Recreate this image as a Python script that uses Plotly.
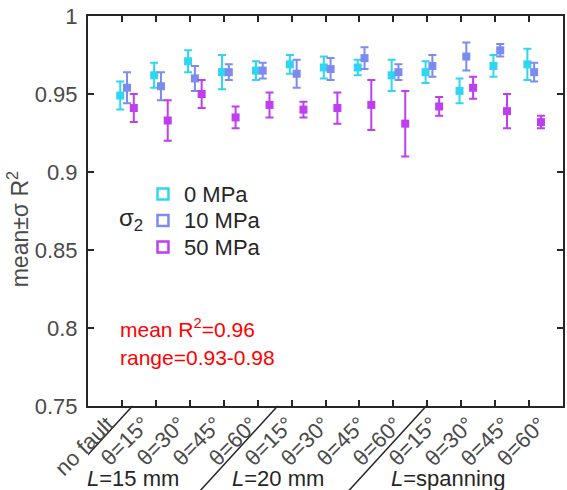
import plotly.graph_objects as go

categories = ["no fault", "θ=15°", "θ=30°", "θ=45°", "θ=60°",
              "θ=15°", "θ=30°", "θ=45°", "θ=60°",
              "θ=15°", "θ=30°", "θ=45°", "θ=60°"]
series_names = ["0 MPa", "10 MPa", "50 MPa"]
mean_0 = [0.949, 0.962, 0.971, 0.964, 0.965, 0.969, 0.967, 0.967, 0.962, 0.964, 0.952, 0.968, 0.969]
sd_0 = [0.009, 0.008, 0.007, 0.011, 0.006, 0.006, 0.007, 0.005, 0.010, 0.007, 0.008, 0.007, 0.010]
mean_10 = [0.954, 0.955, 0.960, 0.964, 0.965, 0.963, 0.966, 0.973, 0.964, 0.968, 0.974, 0.978, 0.964]
sd_10 = [0.010, 0.009, 0.008, 0.005, 0.005, 0.009, 0.007, 0.007, 0.005, 0.007, 0.009, 0.004, 0.006]
mean_50 = [0.941, 0.933, 0.950, 0.935, 0.943, 0.940, 0.941, 0.943, 0.931, 0.942, 0.954, 0.939, 0.932]
sd_50 = [0.009, 0.013, 0.009, 0.007, 0.008, 0.005, 0.010, 0.016, 0.021, 0.006, 0.007, 0.011, 0.004]
offsets = [-0.05, 0.15, 0.35]
colors = ["#2FD6F2", "#7B8BF0", "#BF3EF0"]
group_labels = ["<i>L</i>=15 mm", "<i>L</i>=20 mm", "<i>L</i>=spanning"]
group_label_x = [133, 279, 450]
divider_top_x = [1.31, 5.59, 9.97]
y_ticks = [0.75, 0.8, 0.85, 0.9, 0.95, 1.0]
y_ticklabels = ["0.75", "0.8", "0.85", "0.9", "0.95", "1"]

means = [mean_0, mean_10, mean_50]
sds = [sd_0, sd_10, sd_50]
xpos = list(range(1, len(categories) + 1))

fig = go.Figure()
for name, m, s, off, c in zip(series_names, means, sds, offsets, colors):
    fig.add_trace(go.Scatter(
        x=[p + off for p in xpos], y=m, mode="markers", name=name,
        marker=dict(symbol="square", size=8, color=c, line=dict(width=0)),
        error_y=dict(type="data", array=s, visible=True, color=c, thickness=2, width=4),
        showlegend=False, hoverinfo="skip"))

W, H = 567, 490
L, R, T, B = 88, 2, 16, 84
pw = W - L - R
ph = H - T - B

def px_to_paper_x(px):
    return (px - L) / pw

def px_to_paper_y(py):
    return (H - B - py) / ph

axis_col = "#262626"
txt_col = "#4a4a4a"
font_family = "Liberation Sans, Arial, sans-serif"

fig.update_layout(
    width=W, height=H,
    margin=dict(l=L, r=R, t=T, b=B),
    plot_bgcolor="white", paper_bgcolor="white",
    font=dict(family=font_family, size=22, color=txt_col),
    showlegend=False,
    xaxis=dict(range=[0, 14], tickmode="array", tickvals=xpos, ticktext=categories,
               showticklabels=False,
               ticks="inside", ticklen=6, tickwidth=2, tickcolor=axis_col,
               showline=True, linewidth=2, linecolor=axis_col, mirror="ticks",
               showgrid=False, zeroline=False),
    yaxis=dict(range=[0.75, 1.0], tickmode="array", tickvals=y_ticks, ticktext=y_ticklabels,
               ticks="inside", ticklen=6, tickwidth=2, tickcolor=axis_col,
               showline=True, linewidth=2, linecolor=axis_col, mirror="ticks",
               showgrid=False, zeroline=False, ticklabelstandoff=4,
               tickfont=dict(size=22, color=txt_col)),
)

# rotated category labels (laid out on a slightly wider pitch than the ticks, as in the reference)
label_pitch = 1.0625
label_start = 0.558
for i, lbl in enumerate(categories):
    fig.add_annotation(text=lbl, xref="x", yref="paper",
                       x=label_start + label_pitch * i, y=0,
                       xanchor="right", yanchor="top", textangle=-45,
                       xshift=14, yshift=-3, showarrow=False,
                       font=dict(size=22, color=txt_col))

# y-axis title
fig.add_annotation(text="mean±σ R<sup>2</sup>", xref="paper", yref="paper",
                   x=px_to_paper_x(18), y=px_to_paper_y(229), xanchor="center", yanchor="middle",
                   textangle=-90, showarrow=False, font=dict(size=23, color=txt_col))

# legend drawn as open squares + labels
legend_x = 163.3
legend_text_x = 182
legend_rows_y = [194, 220.5, 247]
half = 5.5
for name, c, ry in zip(series_names, colors, legend_rows_y):
    fig.add_shape(type="rect", xref="paper", yref="paper",
                  x0=px_to_paper_x(legend_x - half), x1=px_to_paper_x(legend_x + half),
                  y0=px_to_paper_y(ry + half), y1=px_to_paper_y(ry - half),
                  line=dict(color=c, width=2.5), fillcolor="rgba(0,0,0,0)")
    fig.add_annotation(text=name, xref="paper", yref="paper",
                       x=px_to_paper_x(legend_text_x), y=px_to_paper_y(ry),
                       xanchor="left", yanchor="middle", showarrow=False,
                       font=dict(size=22, color="#262626"))

fig.add_annotation(text="σ<sub>2</sub>", xref="paper", yref="paper",
                   x=px_to_paper_x(131), y=px_to_paper_y(220), xanchor="center", yanchor="middle",
                   showarrow=False, font=dict(size=24, color="#262626"))
fig.add_annotation(text="mean R<sup>2</sup>=0.96", xref="paper", yref="paper",
                   x=px_to_paper_x(118), y=px_to_paper_y(328), xanchor="left", yanchor="middle",
                   showarrow=False, font=dict(size=21, color="#FF0000"))
fig.add_annotation(text="range=0.93-0.98", xref="paper", yref="paper",
                   x=px_to_paper_x(118), y=px_to_paper_y(357), xanchor="left", yanchor="middle",
                   showarrow=False, font=dict(size=21, color="#FF0000"))

for lbl, gx in zip(group_labels, group_label_x):
    fig.add_annotation(text=lbl, xref="paper", yref="paper",
                       x=px_to_paper_x(gx), y=px_to_paper_y(478), xanchor="center", yanchor="middle",
                       showarrow=False, font=dict(size=22, color="#262626"))

dx_units = 79 / (pw / 14)
for tx in divider_top_x:
    fig.add_shape(type="line", xref="x", yref="paper",
                  x0=tx, y0=0, x1=tx - dx_units, y1=px_to_paper_y(492),
                  line=dict(color="#262626", width=1.5))

fig.write_html("out.html")
